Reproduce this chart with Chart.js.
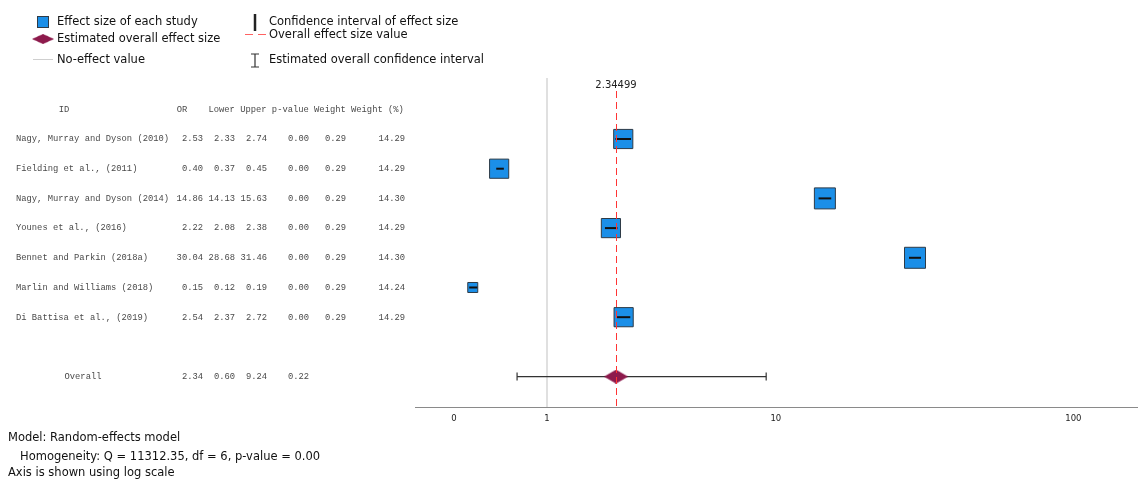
<!DOCTYPE html>
<html>
<head>
<meta charset="utf-8">
<title>Forest plot</title>
<script src="https://cdn.jsdelivr.net/npm/chart.js@4.4.1/dist/chart.umd.min.js"></script>
<style>
	html, body { margin: 0; padding: 0; background: #fff; }
	#forest { display: block; }
</style>
</head>
<body>
<canvas id="forest" width="1138" height="479"></canvas>
<script>
// study data
const studies = [
	'Nagy, Murray and Dyson (2010)',
	'Fielding et al., (2011)',
	'Nagy, Murray and Dyson (2014)',
	'Younes et al., (2016)',
	'Bennet and Parkin (2018a)',
	'Marlin and Williams (2018)',
	'Di Battisa et al., (2019)'
];
const oddsRatio = [2.53, 0.40, 14.86, 2.22, 30.04, 0.15, 2.54];
const lowerCI = [2.33, 0.37, 14.13, 2.08, 28.68, 0.12, 2.37];
const upperCI = [2.74, 0.45, 15.63, 2.38, 31.46, 0.19, 2.72];
const pValue = [0.00, 0.00, 0.00, 0.00, 0.00, 0.00, 0.00];
const weight = [0.29, 0.29, 0.29, 0.29, 0.29, 0.29, 0.29];
const weightPct = [14.29, 14.29, 14.30, 14.29, 14.30, 14.24, 14.29];

const overallOR = 2.34499;
const overallLower = 0.60;
const overallUpper = 9.24;
const overallP = 0.22;

const hetQ = 11312.35;
const hetDf = 6;
const hetP = 0.00;

const xTickValues = [0, 1, 10, 100];
const xTickLabels = ['0', '1', '10', '100'];

// axis is log10(x + 1)
const tf = v => Math.log10(v + 1);
const overallRow = studies.length + 1;

const minW = Math.min(...weightPct);
const maxW = Math.max(...weightPct);
const boxSide = w => 10 + 11 * (w - minW) / (maxW - minW);

const BLUE = '#1b8fe8';
const BOX_EDGE = '#2e3b47';
const MAROON = '#8d1a4c';
const RED = '#ff3434';
const TABLE_FONT = '8.8px "Liberation Mono", monospace';
const TEXT_FONT = '11.5px "DejaVu Sans", sans-serif';

// diamond marker for the overall estimate
const diamond = document.createElement('canvas');
diamond.width = 24;
diamond.height = 14;
(function () {
	const d = diamond.getContext('2d');
	d.fillStyle = MAROON;
	d.beginPath();
	d.moveTo(0, 7);
	d.lineTo(12, 0);
	d.lineTo(24, 7);
	d.lineTo(12, 14);
	d.closePath();
	d.fill();
})();

const ciDatasets = studies.map((s, i) => ({
	type: 'line',
	data: [{x: tf(lowerCI[i]), y: i}, {x: tf(upperCI[i]), y: i}],
	borderColor: '#111',
	borderWidth: 2,
	pointRadius: 0,
	order: 0
}));

const fmt = v => v.toFixed(2);

const forestPlugin = {
	id: 'forest',
	beforeDatasetsDraw(chart) {
		const {ctx, chartArea, scales} = chart;
		const x1 = scales.x.getPixelForValue(tf(1));
		ctx.save();
		ctx.strokeStyle = '#d6d6d6';
		ctx.lineWidth = 1.5;
		ctx.beginPath();
		ctx.moveTo(x1, chartArea.top);
		ctx.lineTo(x1, chartArea.bottom);
		ctx.stroke();
		ctx.restore();
	},
	afterDatasetsDraw(chart) {
		const {ctx, chartArea, scales} = chart;
		const xo = scales.x.getPixelForValue(tf(overallOR));
		const xs = Math.round(xo) + 0.5;
		ctx.save();
		ctx.strokeStyle = RED;
		ctx.lineWidth = 1;
		ctx.setLineDash([7, 4]);
		ctx.beginPath();
		ctx.moveTo(xs, chartArea.top + 13);
		ctx.lineTo(xs, chartArea.bottom);
		ctx.stroke();
		ctx.setLineDash([]);
		ctx.fillStyle = '#222';
		ctx.font = '10px "DejaVu Sans", sans-serif';
		ctx.textAlign = 'center';
		ctx.textBaseline = 'middle';
		ctx.fillText(String(overallOR), xo, chartArea.top + 7);
		ctx.restore();
	},
	afterDraw(chart) {
		const {ctx, scales} = chart;
		const y = scales.y;
		ctx.save();

		// table
		ctx.font = TABLE_FONT;
		ctx.fillStyle = '#4a4a4a';
		ctx.textBaseline = 'middle';
		const hy = y.getPixelForValue(-1);
		ctx.textAlign = 'center';
		ctx.fillText('ID', 64, hy);
		ctx.fillText('OR', 182, hy);
		ctx.textAlign = 'left';
		ctx.fillText('Lower Upper p-value Weight Weight (%)', 208.5, hy);

		const cols = [203, 235, 267, 309, 346, 405];
		studies.forEach((s, i) => {
			const py = y.getPixelForValue(i);
			ctx.textAlign = 'left';
			ctx.fillText(s, 16, py);
			ctx.textAlign = 'right';
			[oddsRatio[i], lowerCI[i], upperCI[i], pValue[i], weight[i], weightPct[i]]
				.forEach((v, c) => ctx.fillText(fmt(v), cols[c], py));
		});
		const oy = y.getPixelForValue(overallRow);
		ctx.textAlign = 'center';
		ctx.fillText('Overall', 83, oy);
		ctx.textAlign = 'right';
		[overallOR, overallLower, overallUpper, overallP]
			.forEach((v, c) => ctx.fillText(fmt(v), cols[c], oy));

		// legend
		ctx.fillStyle = BLUE;
		ctx.fillRect(37.5, 16.5, 11, 11);
		ctx.strokeStyle = BOX_EDGE;
		ctx.lineWidth = 1;
		ctx.strokeRect(37.5, 16.5, 11, 11);
		ctx.drawImage(diamond, 32, 34, 22, 10);
		ctx.strokeStyle = '#cfcfcf';
		ctx.beginPath();
		ctx.moveTo(33, 59.5);
		ctx.lineTo(53, 59.5);
		ctx.stroke();

		ctx.strokeStyle = '#222';
		ctx.lineWidth = 2.5;
		ctx.beginPath();
		ctx.moveTo(255, 14);
		ctx.lineTo(255, 31);
		ctx.stroke();

		ctx.strokeStyle = '#ff6262';
		ctx.lineWidth = 1.2;
		ctx.setLineDash([8, 5]);
		ctx.beginPath();
		ctx.moveTo(245, 34.5);
		ctx.lineTo(266, 34.5);
		ctx.stroke();
		ctx.setLineDash([]);

		ctx.strokeStyle = '#333';
		ctx.lineWidth = 1.2;
		ctx.beginPath();
		ctx.moveTo(251, 54);
		ctx.lineTo(259, 54);
		ctx.moveTo(255, 54);
		ctx.lineTo(255, 67);
		ctx.moveTo(251, 67);
		ctx.lineTo(259, 67);
		ctx.stroke();

		ctx.font = TEXT_FONT;
		ctx.fillStyle = '#111';
		ctx.textAlign = 'left';
		ctx.textBaseline = 'middle';
		ctx.fillText('Effect size of each study', 57, 22);
		ctx.fillText('Estimated overall effect size', 57, 39);
		ctx.fillText('No-effect value', 57, 60);
		ctx.fillText('Confidence interval of effect size', 269, 22);
		ctx.fillText('Overall effect size value', 269, 35);
		ctx.fillText('Estimated overall confidence interval', 269, 60);

		// footer
		ctx.fillText('Model: Random-effects model', 8, 438);
		ctx.fillText('Homogeneity: Q = ' + hetQ.toFixed(2) + ', df = ' + hetDf + ', p-value = ' + hetP.toFixed(2), 20, 457);
		ctx.fillText('Axis is shown using log scale', 8, 473);
		ctx.restore();
	}
};

new Chart(document.getElementById('forest'), {
	data: {
		datasets: [
			...ciDatasets,
			{
				type: 'scatter',
				data: studies.map((s, i) => ({x: tf(oddsRatio[i]), y: i})),
				pointStyle: 'rect',
				pointRadius: ctx => boxSide(weightPct[ctx.dataIndex]) / Math.SQRT2,
				backgroundColor: BLUE,
				borderColor: BOX_EDGE,
				borderWidth: 1,
				order: 1
			},
			{
				type: 'line',
				data: [{x: tf(overallLower), y: overallRow}, {x: tf(overallUpper), y: overallRow}],
				borderColor: '#333',
				borderWidth: 1.2,
				pointStyle: 'line',
				pointRotation: 90,
				pointRadius: 4,
				pointBorderColor: '#333',
				pointBorderWidth: 1.2,
				order: 1
			},
			{
				type: 'scatter',
				data: [{x: tf(overallOR), y: overallRow}],
				pointStyle: diamond,
				pointRadius: 12,
				order: 0
			}
		]
	},
	options: {
		responsive: false,
		animation: false,
		layout: {
			autoPadding: false,
			padding: {left: 415, top: 78, right: 0, bottom: 47.8}
		},
		plugins: {
			legend: {display: false},
			tooltip: {enabled: false}
		},
		scales: {
			x: {
				type: 'linear',
				min: -0.1262,
				max: 2.2136,
				afterBuildTicks: scale => {
					scale.ticks = xTickValues.map(v => ({value: tf(v)}));
				},
				afterFit: scale => {
					scale.paddingLeft = 0;
					scale.paddingRight = 0;
				},
				ticks: {
					callback: (v, i) => xTickLabels[i],
					font: {size: 8.5, family: '"DejaVu Sans", sans-serif'},
					color: '#222',
					padding: 7,
					maxRotation: 0,
					autoSkip: false
				},
				grid: {display: false, drawTicks: false},
				border: {display: true, color: '#8a8a8a', width: 1}
			},
			y: {
				type: 'linear',
				display: false,
				reverse: true,
				min: -2.054,
				max: 9.024
			}
		}
	},
	plugins: [forestPlugin]
});
</script>
</body>
</html>
